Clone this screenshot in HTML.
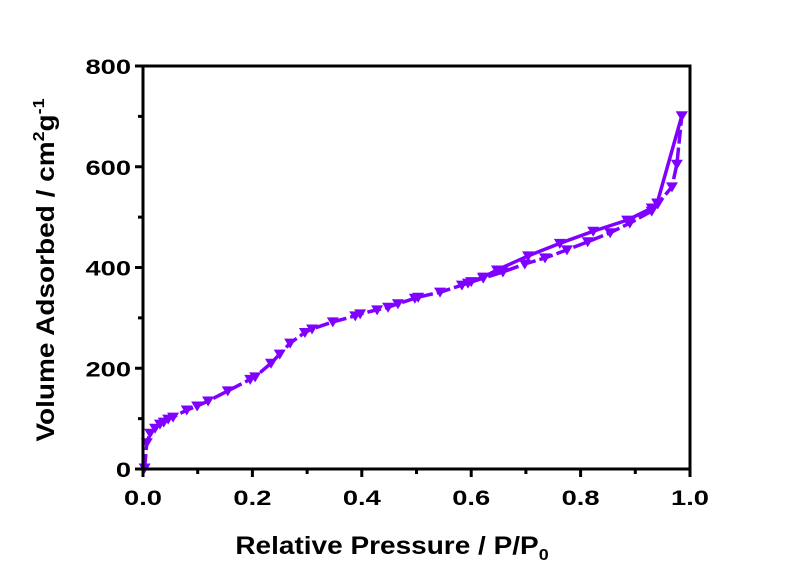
<!DOCTYPE html>
<html><head><meta charset="utf-8"><style>
body{margin:0;background:#fff;width:800px;height:564px;overflow:hidden}
text{font-family:"Liberation Sans",Arial,sans-serif;font-weight:bold;fill:#000}
</style></head><body>
<svg id="chart" width="800" height="564" xmlns="http://www.w3.org/2000/svg"></svg>
<script>
const adsX=[0.003,0.007,0.013,0.022,0.031,0.038,0.046,0.055,0.08,0.099,0.119,0.155,0.196,0.205,0.234,0.25,0.269,0.296,0.309,0.347,0.388,0.397,0.428,0.448,0.466,0.497,0.503,0.543,0.583,0.594,0.622,0.658,0.698,0.735,0.775,0.813,0.854,0.89,0.93,0.941,0.967,0.976,0.985];
const adsY=[2,52,71,81,89,93,99,103,117,125,135,155,178,183,210,228,250,271,278,292,304,308,316,321,328,339,341,351,365,369,379,391,407,419,435,451,469,488,512,526,560,605,701];
const desX=[0.985,0.94,0.93,0.885,0.823,0.762,0.704,0.647,0.622,0.6];
const desY=[701,528,518,494,472,448,423,395,381,372];
const xTicks=[0,0.2,0.4,0.6,0.8,1.0];
const xTickLabels=["0.0","0.2","0.4","0.6","0.8","1.0"];
const yTicks=[0,200,400,600,800];
const yTickLabels=["0","200","400","600","800"];
const X0=143,X1=690,Y0=469,Y1=66;
const sx=v=>X0+(X1-X0)*v/1.0;
const sy=v=>Y0-(Y0-Y1)*v/800;
const svg=document.getElementById('chart');
const NS='http://www.w3.org/2000/svg';
function mk(tag,attrs,parent){const e=document.createElementNS(NS,tag);for(const k in attrs)e.setAttribute(k,attrs[k]);(parent||svg).appendChild(e);return e;}
function series(xs,ys,name,dash){
 const pts=xs.map((x,i)=>sx(x)+','+sy(ys[i])).join(' ');
 const l=mk('polyline',{points:pts,fill:'none',stroke:'#7f00ff','stroke-width':3.5,'stroke-dasharray':dash,'stroke-linejoin':'round'});
 
 
 xs.forEach((x,i)=>{const cx=sx(x),cy=sy(ys[i]);
  const m=mk('polygon',{points:`${cx-6},${cy-4.5} ${cx+6},${cy-4.5} ${cx},${cy+5.5}`,fill:'#7f00ff'});
  
  });
}
series(adsX,adsY,'adsorption','14 4');
series(desX,desY,'desorption','none');
const frame=mk('rect',{x:X0,y:Y1,width:X1-X0,height:Y0-Y1,fill:'none',stroke:'#000','stroke-width':3});


for(let i=0;i<=10;i++){const v=i/10,major=i%2===0;const t=mk('line',{x1:sx(v),x2:sx(v),y1:Y0,y2:Y0+(major?8:5),stroke:'#000','stroke-width':3});

}
xTicks.forEach((v,i)=>{const t=mk('text',{transform:`translate(${sx(v)},${Y0+36}) scale(1.3,1)`,'text-anchor':'middle','font-size':21});t.textContent=xTickLabels[i];

});
for(let v=0;v<=800;v+=100){const major=v%200===0;const t=mk('line',{x1:X0,x2:X0-(major?8:5),y1:sy(v),y2:sy(v),stroke:'#000','stroke-width':3});

}
yTicks.forEach((v,i)=>{const t=mk('text',{transform:`translate(${X0-12},${sy(v)+8}) scale(1.3,1)`,'text-anchor':'end','font-size':21});t.textContent=yTickLabels[i];

});
const xt=mk('text',{transform:`translate(392,554) scale(1.12,1)`,'text-anchor':'middle','font-size':25});
xt.innerHTML='Relative Pressure / P/P<tspan font-size="16" dy="6">0</tspan>';


const yt=mk('text',{transform:'translate(54,270) rotate(-90) scale(1.12,1)','text-anchor':'middle','font-size':25});
yt.innerHTML='Volume Adsorbed / cm<tspan font-size="16" dy="-10">2</tspan><tspan dy="10">g</tspan><tspan font-size="16" dy="-10">-1</tspan>';


</script>
</body></html>
